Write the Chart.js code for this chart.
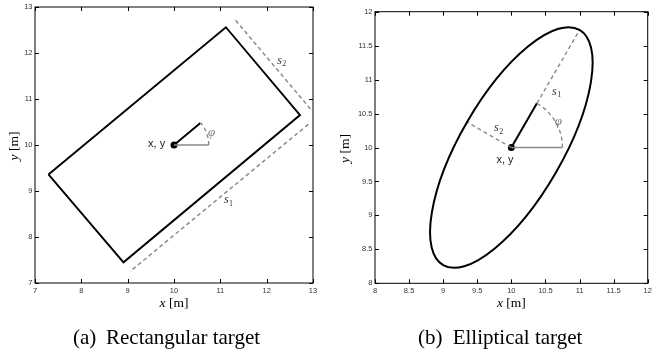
<!DOCTYPE html>
<html>
<head>
<meta charset="utf-8">
<script src="https://cdn.jsdelivr.net/npm/chart.js@4.4.1/dist/chart.umd.min.js"></script>
<style>
html, body { margin: 0; padding: 0; background: #fff; }
#wrap { position: relative; width: 657px; height: 349px; }
canvas { position: absolute; top: 0; }
</style>
</head>
<body>
<div id="wrap">
  <canvas id="rect" width="330" height="349" style="left:0px"></canvas>
  <canvas id="ell" width="327" height="349" style="left:330px"></canvas>
</div>
<script>
// (a) rectangular target - corners and guide lines
var rectX = [7.29, 11.12, 12.72, 8.91, 7.29]
var rectY = [9.36, 12.56, 10.65, 7.45, 9.36]
var rectHeadX = [10, 10.57]
var rectHeadY = [10, 10.48]
var rectRefX = [10, 10.75]
var rectRefY = [10, 10]
var rectS1X = [12.90, 9.05]
var rectS1Y = [10.45, 7.25]
var rectS2X = [11.33, 12.94]
var rectS2Y = [12.71, 10.79]
var rectPhi = 40
var rectArcR = 0.75
var rectTicks = [7, 8, 9, 10, 11, 12, 13]

// (b) elliptical target
var ellCenter = [10, 10]
var ellAxes = [2, 0.75]
var ellPhi = 60
var ellHeadX = [10, 10.375]
var ellHeadY = [10, 10.65]
var ellRefX = [10, 10.75]
var ellRefY = [10, 10]
var ellS1X = [10.375, 11.0]
var ellS1Y = [10.65, 11.73]
var ellS2X = [10, 9.35]
var ellS2Y = [10, 10.375]
var ellArcR = 0.75
var ellTicks = [8, 8.5, 9, 9.5, 10, 10.5, 11, 11.5, 12]

var grey = '#8a8a8a'
var dash = [4, 3]

function pts(xs, ys) {
    return xs.map(function (x, i) { return { x: x, y: ys[i] } })
}

function lineSet(xs, ys, color, width, d) {
    return {
        data: pts(xs, ys),
        showLine: true,
        borderColor: color,
        borderWidth: width,
        borderDash: d || [],
        pointRadius: 0,
        fill: false,
        tension: 0
    }
}

function dotSet(x, y) {
    return {
        data: [{ x: x, y: y }],
        showLine: false,
        pointRadius: 3.5,
        backgroundColor: '#000',
        borderColor: '#000',
        borderWidth: 0
    }
}

function sLabel(ctx, x, y, sub) {
    ctx.fillStyle = '#333'
    ctx.font = 'italic 12px "Liberation Serif"'
    var w1 = ctx.measureText('s').width
    ctx.font = '8px "Liberation Serif"'
    var w2 = ctx.measureText(sub).width
    var x0 = x - (w1 + w2) / 2
    ctx.textAlign = 'left'
    ctx.textBaseline = 'alphabetic'
    ctx.font = 'italic 12px "Liberation Serif"'
    ctx.fillText('s', x0, y + 3)
    ctx.font = '8px "Liberation Serif"'
    ctx.fillText(sub, x0 + w1 + 0.5, y + 5.5)
}

function figurePlugin(o) {
    return {
        id: 'figure',
        afterDatasetsDraw: function (chart) {
            var ctx = chart.ctx
            var xs = chart.scales.x, ys = chart.scales.y
            var px = function (v) { return xs.getPixelForValue(v) }
            var py = function (v) { return ys.getPixelForValue(v) }
            var a = chart.chartArea
            var cx = px(o.center[0]), cy = py(o.center[1])
            var kx = px(o.center[0] + 1) - cx, ky = py(o.center[1] + 1) - cy

            ctx.save()
            // ellipse outline
            if (o.axes) {
                ctx.save()
                ctx.translate(cx, cy)
                ctx.scale(kx, ky)
                ctx.rotate(o.phi * Math.PI / 180)
                ctx.beginPath()
                ctx.ellipse(0, 0, o.axes[0], o.axes[1], 0, 0, 2 * Math.PI)
                ctx.restore()
                ctx.strokeStyle = '#000'
                ctx.lineWidth = 2
                ctx.setLineDash([])
                ctx.stroke()
            }
            // phi arc
            ctx.save()
            ctx.translate(cx, cy)
            ctx.scale(kx, ky)
            ctx.beginPath()
            ctx.arc(0, 0, o.arcR, 0, o.phi * Math.PI / 180)
            ctx.restore()
            ctx.strokeStyle = grey
            ctx.lineWidth = 1.4
            ctx.setLineDash(dash)
            ctx.stroke()
            ctx.setLineDash([])

            // box with inward ticks
            ctx.strokeStyle = '#000'
            ctx.lineWidth = 1
            ctx.strokeRect(a.left, a.top, a.right - a.left, a.bottom - a.top)
            ctx.beginPath()
            xs.ticks.forEach(function (t) {
                var x = Math.round(px(t.value)) + 0.5
                ctx.moveTo(x, a.bottom); ctx.lineTo(x, a.bottom - 4)
                ctx.moveTo(x, a.top); ctx.lineTo(x, a.top + 4)
            })
            ys.ticks.forEach(function (t) {
                var y = Math.round(py(t.value)) + 0.5
                ctx.moveTo(a.left, y); ctx.lineTo(a.left + 4, y)
                ctx.moveTo(a.right, y); ctx.lineTo(a.right - 4, y)
            })
            ctx.stroke()

            // annotations
            ctx.fillStyle = '#222'
            ctx.font = '11px "Liberation Sans"'
            ctx.textAlign = o.xyAlign
            ctx.textBaseline = 'middle'
            ctx.fillText('x, y', px(o.xyPos[0]), py(o.xyPos[1]))

            ctx.fillStyle = '#777'
            ctx.font = 'italic 13px "Liberation Serif"'
            ctx.textAlign = 'center'
            ctx.fillText('\u03c6', px(o.phiPos[0]), py(o.phiPos[1]))

            sLabel(ctx, px(o.s1Pos[0]), py(o.s1Pos[1]), '1')
            sLabel(ctx, px(o.s2Pos[0]), py(o.s2Pos[1]), '2')

            // axis titles
            var mid = (a.left + a.right) / 2
            ctx.fillStyle = '#000'
            ctx.textBaseline = 'alphabetic'
            ctx.textAlign = 'left'
            ctx.font = 'italic 13.5px "Liberation Serif"'
            var wx = ctx.measureText('x').width
            ctx.font = '13.5px "Liberation Serif"'
            var wm = ctx.measureText(' [m]').width
            var x0 = mid - (wx + wm) / 2
            ctx.font = 'italic 13.5px "Liberation Serif"'
            ctx.fillText('x', x0, 306.5)
            ctx.font = '13.5px "Liberation Serif"'
            ctx.fillText(' [m]', x0 + wx, 306.5)

            ctx.save()
            ctx.translate(o.yTitleX, (a.top + a.bottom) / 2 + 1)
            ctx.rotate(-Math.PI / 2)
            ctx.font = 'italic 13.5px "Liberation Serif"'
            var wy = ctx.measureText('y').width
            var y0 = -(wy + wm) / 2
            ctx.fillText('y', y0, 0)
            ctx.font = '13.5px "Liberation Serif"'
            ctx.fillText(' [m]', y0 + wy, 0)
            ctx.restore()

            // caption
            ctx.font = '21px "Liberation Serif"'
            ctx.fillText(o.capTag, o.capX[0], 344)
            ctx.fillText(o.capText, o.capX[1], 344)
            ctx.restore()
        }
    }
}

function makeChart(id, cfg) {
    var tickFont = { family: 'Liberation Sans', size: 7.5 }
    return new Chart(document.getElementById(id), {
        type: 'scatter',
        data: { datasets: cfg.datasets },
        options: {
            responsive: false,
            animation: false,
            events: [],
            layout: { padding: cfg.padding },
            plugins: { legend: { display: false }, tooltip: { enabled: false } },
            scales: {
                x: {
                    type: 'linear', min: cfg.ticks[0], max: cfg.ticks[cfg.ticks.length - 1],
                    afterBuildTicks: function (s) { s.ticks = cfg.ticks.map(function (v) { return { value: v } }) },
                    afterFit: function (s) { s.height = cfg.xHeight },
                    grid: { display: false, drawTicks: false, tickLength: 0 }, border: { display: false },
                    ticks: { font: tickFont, color: '#333', padding: 3, maxRotation: 0, autoSkip: false,
                             callback: function (v) { return String(v) } }
                },
                y: {
                    type: 'linear', min: cfg.ticks[0], max: cfg.ticks[cfg.ticks.length - 1],
                    afterBuildTicks: function (s) { s.ticks = cfg.ticks.map(function (v) { return { value: v } }) },
                    afterFit: function (s) { s.width = cfg.yWidth },
                    grid: { display: false, drawTicks: false, tickLength: 0 }, border: { display: false },
                    ticks: { font: tickFont, color: '#333', padding: 2.5, autoSkip: false,
                             callback: function (v) { return String(v) } }
                }
            }
        },
        plugins: [figurePlugin(cfg.fig)]
    })
}

makeChart('rect', {
    ticks: rectTicks,
    padding: { left: 0, right: 17, top: 5, bottom: 0 },
    xHeight: 66,
    yWidth: 35,
    datasets: [
        lineSet(rectS1X, rectS1Y, grey, 1.5, dash),
        lineSet(rectS2X, rectS2Y, grey, 1.5, dash),
        lineSet(rectX, rectY, '#000', 1.9),
        lineSet(rectRefX, rectRefY, grey, 1.4),
        lineSet(rectHeadX, rectHeadY, '#000', 1.9),
        dotSet(10, 10)
    ],
    fig: {
        center: [10, 10], phi: rectPhi, arcR: rectArcR,
        xyPos: [9.81, 10.02], xyAlign: 'right',
        phiPos: [10.81, 10.28],
        s1Pos: [11.17, 8.80], s2Pos: [12.32, 11.83],
        yTitleX: 17.5,
        capTag: '(a)', capText: 'Rectangular target', capX: [73, 106]
    }
})

makeChart('ell', {
    ticks: ellTicks,
    padding: { left: 0, right: 9.3, top: 11.7, bottom: 0 },
    xHeight: 65.7,
    yWidth: 45,
    datasets: [
        lineSet(ellS1X, ellS1Y, grey, 1.4, dash),
        lineSet(ellS2X, ellS2Y, grey, 1.4, dash),
        lineSet(ellRefX, ellRefY, grey, 1.4),
        lineSet(ellHeadX, ellHeadY, '#000', 2),
        dotSet(10, 10)
    ],
    fig: {
        center: ellCenter, axes: ellAxes, phi: ellPhi, arcR: ellArcR,
        xyPos: [9.906, 9.816], xyAlign: 'center',
        phiPos: [10.69, 10.38],
        s1Pos: [10.66, 10.82], s2Pos: [9.81, 10.28],
        yTitleX: 18.5,
        capTag: '(b)', capText: 'Elliptical target', capX: [88, 122.7]
    }
})
</script>
</body>
</html>
